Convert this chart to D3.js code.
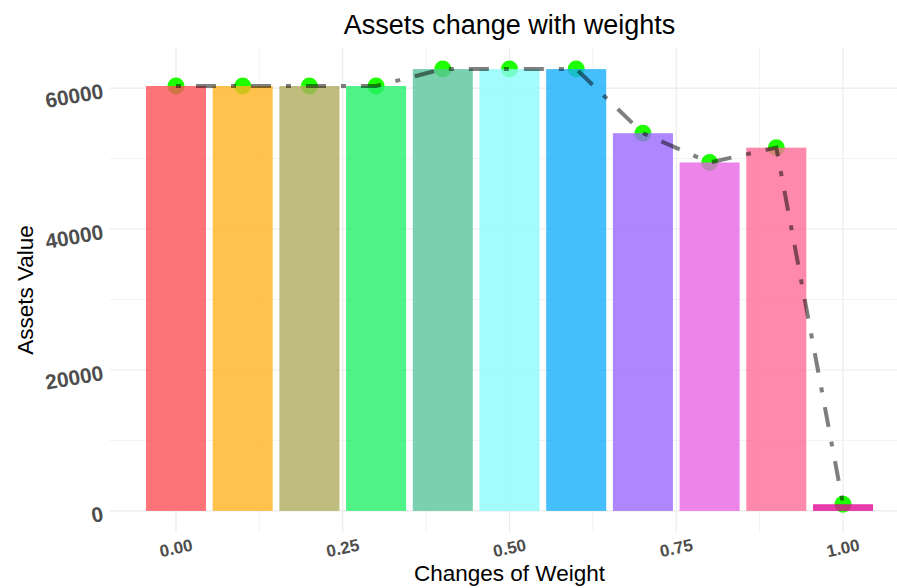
<!DOCTYPE html>
<html>
<head>
<meta charset="utf-8">
<script src="https://cdn.jsdelivr.net/npm/d3@7"></script>
<style>
  body { margin: 0; background: #fff; }
  svg { display: block; font-family: "Liberation Sans", Arial, sans-serif; }
</style>
</head>
<body>
<div id="chart"></div>
<script>
// data
const weights = [0, 0.1, 0.2, 0.3, 0.4, 0.5, 0.6, 0.7, 0.8, 0.9, 1.0];
const assets = [60300, 60300, 60300, 60300, 62700, 62700, 62700, 53600, 49450, 51550, 950];
const barColors = ["#FF5157", "#FFB420", "#B0AB5E", "#24F06A", "#5AC49C", "#8BFBFB",
                   "#17AFFB", "#9A68FC", "#E765E5", "#FF6A98", "#E20995"];
const xTicks = [0, 0.25, 0.5, 0.75, 1];
const xMinor = [0.125, 0.375, 0.625, 0.875];
const yTicks = [0, 20000, 40000, 60000];
const yMinor = [10000, 30000, 50000];

const W = 897, H = 588;
const barW = 0.09;

let svg = d3.select("#chart").append("svg")
  .attr("width", W)
  .attr("height", H);

// ggplot style 5% expansion
let xLo = d3.min(weights) - barW / 2, xHi = d3.max(weights) + barW / 2;
let xPad = (xHi - xLo) * 0.05;
let yMax = d3.max(assets);
let x = d3.scaleLinear().domain([xLo - xPad, xHi + xPad]).range([109.6, 909.4]);
let y = d3.scaleLinear().domain([-yMax * 0.05, yMax * 1.05]).range([533, 47]);

// grid
let grid = svg.append("g");
grid.selectAll(".ymin").data(yMinor).join("line")
  .attr("x1", x.range()[0]).attr("x2", x.range()[1])
  .attr("y1", d => y(d)).attr("y2", d => y(d))
  .attr("stroke", "#EBEBEB").attr("stroke-width", 0.6);
grid.selectAll(".xmin").data(xMinor).join("line")
  .attr("y1", y.range()[0]).attr("y2", y.range()[1])
  .attr("x1", d => x(d)).attr("x2", d => x(d))
  .attr("stroke", "#EBEBEB").attr("stroke-width", 0.6);
grid.selectAll(".ymaj").data(yTicks).join("line")
  .attr("x1", x.range()[0]).attr("x2", x.range()[1])
  .attr("y1", d => y(d)).attr("y2", d => y(d))
  .attr("stroke", "#EBEBEB").attr("stroke-width", 1.1);
grid.selectAll(".xmaj").data(xTicks).join("line")
  .attr("y1", y.range()[0]).attr("y2", y.range()[1])
  .attr("x1", d => x(d)).attr("x2", d => x(d))
  .attr("stroke", "#EBEBEB").attr("stroke-width", 1.1);

// points (under the bars)
svg.append("g").selectAll("circle").data(weights).join("circle")
  .attr("cx", d => x(d))
  .attr("cy", (d, i) => y(assets[i]))
  .attr("r", 8.5)
  .attr("fill", "#1EFF00");

// bars
svg.append("g").selectAll("rect").data(weights).join("rect")
  .attr("x", d => x(d - barW / 2))
  .attr("width", d => x(barW) - x(0))
  .attr("y", (d, i) => y(assets[i]))
  .attr("height", (d, i) => y(0) - y(assets[i]))
  .attr("fill", (d, i) => barColors[i])
  .attr("fill-opacity", 0.8);

// dot-dash line
let line = d3.line().x(d => x(d[0])).y(d => y(d[1]));
svg.append("path")
  .datum(weights.map((w, i) => [w, assets[i]]))
  .attr("d", line)
  .attr("fill", "none")
  .attr("stroke", "#000")
  .attr("stroke-opacity", 0.5)
  .attr("stroke-width", 4)
  .attr("stroke-dasharray", "5,15,20,15");

// axis tick labels
svg.append("g").selectAll("text").data(yTicks).join("text")
  .attr("transform", d => `translate(103,${y(d) + 2.5}) rotate(-10)`)
  .attr("text-anchor", "end")
  .attr("dy", "0.35em")
  .attr("font-size", 21)
  .attr("font-weight", "bold")
  .attr("fill", "#4D4D4D")
  .text(d => d);

svg.append("g").selectAll("text").data(xTicks).join("text")
  .attr("transform", d => `translate(${x(d)},548) rotate(-12)`)
  .attr("text-anchor", "middle")
  .attr("dy", "0.35em")
  .attr("font-size", 17)
  .attr("font-weight", "bold")
  .attr("fill", "#4D4D4D")
  .text(d => d3.format(".2f")(d));

// titles
let midX = (x.range()[0] + x.range()[1]) / 2;
svg.append("text")
  .attr("x", midX).attr("y", 34)
  .attr("text-anchor", "middle")
  .attr("font-size", 27)
  .attr("fill", "#000")
  .text("Assets change with weights");

svg.append("text")
  .attr("x", midX).attr("y", 581)
  .attr("text-anchor", "middle")
  .attr("font-size", 22.5)
  .attr("fill", "#000")
  .text("Changes of Weight");

svg.append("text")
  .attr("transform", `translate(33,${(y.range()[0] + y.range()[1]) / 2}) rotate(-90)`)
  .attr("text-anchor", "middle")
  .attr("font-size", 22.5)
  .attr("fill", "#000")
  .text("Assets Value");
</script>
</body>
</html>
